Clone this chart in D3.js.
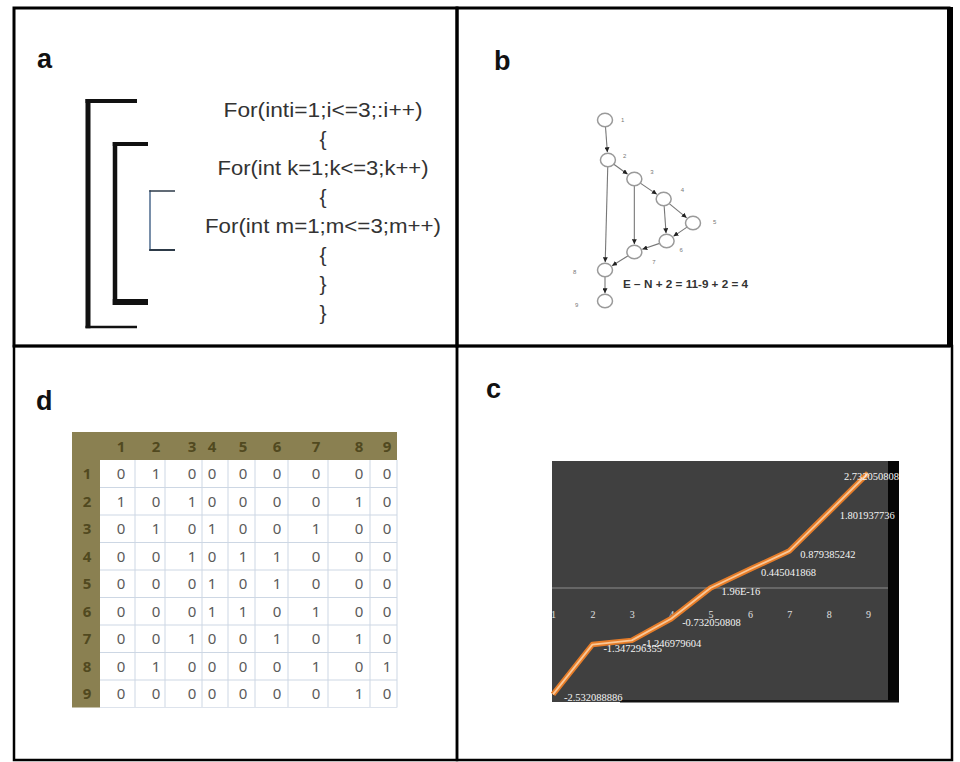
<!DOCTYPE html>
<html><head><meta charset="utf-8">
<script src="https://cdn.jsdelivr.net/npm/d3@7"></script>
<style>body{margin:0;background:#fff}svg{display:block}</style>
</head><body>
<svg id="fig" width="960" height="762"></svg>
<script>
// ================= DATA =================
const panelLabels = ["a", "b", "d", "c"];

// Panel a: nested loop code
const codeLines = ["For(inti=1;i<=3;:i++)", "{", "For(int k=1;k<=3;k++)", "{", "For(int m=1;m<=3;m++)", "{", "}", "}"];

// Panel b: control-flow graph (layout coords in graph units)
const nodeIds = [1, 2, 3, 4, 5, 6, 7, 8, 9];
const nodeGX  = [0, 0.1, 1.0, 2.0, 3.0, 2.1, 1.0, 0.0, 0.0];
const nodeGY  = [0, 2.0, 2.95, 3.95, 5.15, 6.05, 6.6, 7.5, 9.05];
const edges   = [[1,2],[2,3],[3,4],[4,5],[5,6],[4,6],[6,7],[3,7],[7,8],[2,8],[8,9]];
const formula = "E \u2212 N + 2 = 11-9 + 2 = 4";

// Panel d: adjacency matrix
const matrixLabels = ["1","2","3","4","5","6","7","8","9"];
const matrixRows = [
  [0,1,0,0,0,0,0,0,0],
  [1,0,1,0,0,0,0,1,0],
  [0,1,0,1,0,0,1,0,0],
  [0,0,1,0,1,1,0,0,0],
  [0,0,0,1,0,1,0,0,0],
  [0,0,0,1,1,0,1,0,0],
  [0,0,1,0,0,1,0,1,0],
  [0,1,0,0,0,0,1,0,1],
  [0,0,0,0,0,0,0,1,0]
];

// Panel c: eigenvalue line chart
const eigenCategories = ["1","2","3","4","5","6","7","8","9"];
const eigenValues = [-2.532088886, -1.347296355, -1.246979604, -0.732050808, 1.96e-16, 0.445041868, 0.879385242, 1.801937736, 2.732050808];
const eigenLabels = ["-2.532088886", "-1.347296355", "-1.246979604", "-0.732050808", "1.96E-16", "0.445041868", "0.879385242", "1.801937736", "2.732050808"];

// ================= DRAW =================
const svg = d3.select("#fig");
svg.append("rect").attr("width", 960).attr("height", 762).attr("fill", "#fff");

// panel frames
const frames = svg.append("g").attr("fill", "none").attr("stroke", "#000");
frames.append("rect").attr("x", 14).attr("y", 8).attr("width", 443).attr("height", 338).attr("stroke-width", 3);
frames.append("rect").attr("x", 457).attr("y", 8).attr("width", 492).attr("height", 338).attr("stroke-width", 3);
frames.append("line").attr("x1", 950).attr("x2", 950).attr("y1", 7).attr("y2", 347).attr("stroke-width", 6);
frames.append("rect").attr("x", 14).attr("y", 346).attr("width", 443).attr("height", 414).attr("stroke-width", 2.5);
frames.append("rect").attr("x", 457).attr("y", 346).attr("width", 495).attr("height", 414).attr("stroke-width", 2.5);

// panel letters
const letterPos = [[37, 68], [494, 70], [36, 410], [486, 398]];
svg.append("g").selectAll("text").data(panelLabels).join("text")
  .attr("x", (d, i) => letterPos[i][0]).attr("y", (d, i) => letterPos[i][1])
  .attr("font-family", "Liberation Sans, Arial, sans-serif").attr("font-weight", "bold")
  .attr("font-size", 27).attr("fill", "#111").text(d => d);

// ---------- Panel a ----------
const gA = svg.append("g");
const lineY = d3.scaleLinear().domain([0, 7]).range([117, 320]);
const codeWidths = {0: 199, 2: 211, 4: 236};
gA.selectAll("text").data(codeLines).join("text")
  .attr("x", 323).attr("y", (d, i) => lineY(i))
  .attr("text-anchor", "middle")
  .attr("font-family", "Liberation Sans, Arial, sans-serif").attr("font-size", 21)
  .attr("fill", "#333")
  .each(function(d, i) {
    if (codeWidths[i]) d3.select(this).attr("textLength", codeWidths[i]).attr("lengthAdjust", "spacingAndGlyphs");
  })
  .text(d => d);

// brackets
const brackets = [
  {x: 88, y1: 101, y2: 327, x2: 137, w: 5, wt: 4, wb: 2.5, c: "#111", vc: "#111"},
  {x: 115, y1: 144, y2: 302, x2: 148, w: 4.5, wt: 4, wb: 6, c: "#111", vc: "#111"},
  {x: 150, y1: 191, y2: 250, x2: 175, w: 1.5, wt: 1.5, wb: 2, c: "#2d3a48", vc: "#4d6a8c"}
];
brackets.forEach(b => {
  gA.append("line").attr("x1", b.x).attr("x2", b.x).attr("y1", b.y1 - b.wt/2).attr("y2", b.y2 + b.wb/2)
    .attr("stroke", b.vc).attr("stroke-width", b.w);
  gA.append("line").attr("x1", b.x - b.w/2).attr("x2", b.x2).attr("y1", b.y1).attr("y2", b.y1)
    .attr("stroke", b.c).attr("stroke-width", b.wt);
  gA.append("line").attr("x1", b.x - b.w/2).attr("x2", b.x2).attr("y1", b.y2).attr("y2", b.y2)
    .attr("stroke", b.c).attr("stroke-width", b.wb);
});

// ---------- Panel b ----------
const gB = svg.append("g");
const gx = d3.scaleLinear().domain([0, 3]).range([605, 693]);
const gy = d3.scaleLinear().domain([0, 9]).range([120, 300]);
const nodeById = {};
nodeIds.forEach((id, i) => nodeById[id] = {id, x: gx(nodeGX[i]), y: gy(nodeGY[i])});
const rx = 7.5, ry = 6.8;

svg.append("defs").append("marker").attr("id", "arr")
  .attr("viewBox", "0 0 10 10").attr("refX", 10).attr("refY", 5)
  .attr("markerWidth", 5).attr("markerHeight", 5).attr("orient", "auto")
  .attr("markerUnits", "userSpaceOnUse")
  .append("path").attr("d", "M0,0 L10,5 L0,10 z").attr("fill", "#222");

gB.selectAll("line.edge").data(edges).join("line").attr("class", "edge")
  .each(function([s, t]) {
    const a = nodeById[s], b = nodeById[t];
    const dx = b.x - a.x, dy = b.y - a.y, L = Math.hypot(dx, dy);
    const ux = dx / L, uy = dy / L;
    const ra = 1 / Math.sqrt((ux*ux)/(rx*rx) + (uy*uy)/(ry*ry));
    d3.select(this)
      .attr("x1", a.x + ux * ra).attr("y1", a.y + uy * ra)
      .attr("x2", b.x - ux * (ra + 1)).attr("y2", b.y - uy * (ra + 1));
  })
  .attr("stroke", "#777").attr("stroke-width", 1.1).attr("marker-end", "url(#arr)");

gB.selectAll("ellipse").data(Object.values(nodeById)).join("ellipse")
  .attr("cx", d => d.x).attr("cy", d => d.y).attr("rx", rx).attr("ry", ry)
  .attr("fill", "#fff").attr("stroke", "#9a9a9a").attr("stroke-width", 1.5);

const nodeLabelOff = {1:[16,2], 2:[15,-2], 3:[16,-5], 4:[17,-7], 5:[20,1], 6:[13,11], 7:[18,12], 8:[-32,4], 9:[-30,6]};
gB.selectAll("text.nl").data(Object.values(nodeById)).join("text").attr("class", "nl")
  .attr("x", d => d.x + nodeLabelOff[d.id][0]).attr("y", d => d.y + nodeLabelOff[d.id][1])
  .attr("font-family", "Liberation Sans, Arial, sans-serif").attr("font-size", 6)
  .attr("fill", "#777").text(d => d.id);

gB.append("text").attr("x", 623).attr("y", 288)
  .attr("font-family", "Liberation Sans, Arial, sans-serif").attr("font-size", 10).attr("font-weight", "bold")
  .attr("fill", "#333").attr("textLength", 125).attr("lengthAdjust", "spacingAndGlyphs").text(formula);

// ---------- Panel d ----------
const gD = svg.append("g");
const colEdges = [100, 135, 165, 202, 228, 255, 288, 328, 370, 397];
const colCenters = [121, 156, 192, 212, 243, 277, 316, 359, 387];
const rowY = d3.scaleBand().domain(matrixLabels).range([460, 707.5]);
const olive = "#8a8051";
gD.append("rect").attr("x", 72).attr("y", 432).attr("width", 325).attr("height", 28).attr("fill", olive);
gD.append("rect").attr("x", 72).attr("y", 432).attr("width", 28).attr("height", 275.5).attr("fill", olive);
// gridlines
gD.selectAll("line.v").data(colEdges.slice(1)).join("line").attr("class", "v")
  .attr("x1", d => d).attr("x2", d => d).attr("y1", 460).attr("y2", 707.5)
  .attr("stroke", "#cdd7e4").attr("stroke-width", 1);
gD.selectAll("line.h").data(matrixLabels.slice(1)).join("line").attr("class", "h")
  .attr("x1", 100).attr("x2", 397).attr("y1", d => rowY(d)).attr("y2", d => rowY(d))
  .attr("stroke", "#cdd7e4").attr("stroke-width", 1);
gD.append("line").attr("x1", 100).attr("x2", 397).attr("y1", 707.5).attr("y2", 707.5).attr("stroke", "#dde3ec");
// header labels
gD.selectAll("text.ch").data(matrixLabels).join("text").attr("class", "ch")
  .attr("x", (d, i) => colCenters[i]).attr("y", 452).attr("text-anchor", "middle")
  .attr("font-family", "Noto Sans, Liberation Sans, sans-serif").attr("font-size", 15).attr("font-weight", "bold")
  .attr("fill", "#51491f").text(d => d);
gD.selectAll("text.rh").data(matrixLabels).join("text").attr("class", "rh")
  .attr("x", 87).attr("y", d => rowY(d) + rowY.bandwidth()/2 + 5.5).attr("text-anchor", "middle")
  .attr("font-family", "Noto Sans, Liberation Sans, sans-serif").attr("font-size", 15).attr("font-weight", "bold")
  .attr("fill", "#51491f").text(d => d);
// values
matrixRows.forEach((row, r) => {
  gD.selectAll(null).data(row).join("text")
    .attr("x", (d, i) => colCenters[i]).attr("y", rowY(matrixLabels[r]) + rowY.bandwidth()/2 + 5.5)
    .attr("text-anchor", "middle")
    .attr("font-family", "Noto Sans, Liberation Sans, sans-serif").attr("font-size", 15)
    .attr("fill", "#5a5a5a").text(d => d);
});

// ---------- Panel c ----------
const gC = svg.append("g");
const plot = {x: 552, y: 461, w: 336, h: 241};
gC.append("rect").attr("x", plot.x).attr("y", plot.y).attr("width", plot.w).attr("height", plot.h).attr("fill", "#404040");
gC.append("rect").attr("x", plot.x + plot.w).attr("y", plot.y).attr("width", 11).attr("height", plot.h).attr("fill", "#050505");
gC.append("rect").attr("x", 620).attr("y", 700).attr("width", 279).attr("height", 2.5).attr("fill", "#111");

const xS = d3.scalePoint().domain(eigenCategories).range([553, 868]);
const yS = d3.scaleLinear().domain([-3, 3]).range([714, 462]);

gC.append("line").attr("x1", plot.x).attr("x2", plot.x + plot.w).attr("y1", yS(0)).attr("y2", yS(0))
  .attr("stroke", "#8c8c8c").attr("stroke-width", 1.2);

const axis = d3.axisBottom(xS).tickSize(0).tickPadding(23);
const ax = gC.append("g").attr("transform", `translate(0,${yS(0)})`).call(axis);
ax.select(".domain").remove();
ax.selectAll("text").attr("font-family", "Liberation Serif, Times New Roman, serif").attr("font-size", 10).attr("fill", "#e0e0e0");

const lineGen = d3.line().x((d, i) => xS(eigenCategories[i])).y(d => yS(d));
gC.append("path").datum(eigenValues).attr("d", lineGen).attr("fill", "none")
  .attr("stroke", "#e67c28").attr("stroke-width", 5.5).attr("stroke-linejoin", "round");
gC.append("path").datum(eigenValues).attr("d", lineGen).attr("fill", "none")
  .attr("stroke", "#f9c797").attr("stroke-width", 1.8).attr("stroke-linejoin", "round");

gC.selectAll("text.dl").data(eigenValues).join("text").attr("class", "dl")
  .attr("y", d => yS(d) + 7)
  .attr("font-family", "Liberation Serif, Times New Roman, serif").attr("font-size", 10.5)
  .attr("fill", "#f4f4f4").text((d, i) => eigenLabels[i])
  .each(function(d, i) {
    const w = this.getComputedTextLength();
    const x0 = xS(eigenCategories[i]) + 11;
    d3.select(this).attr("x", Math.min(x0, 899 - w));
  });
</script>
</body></html>
